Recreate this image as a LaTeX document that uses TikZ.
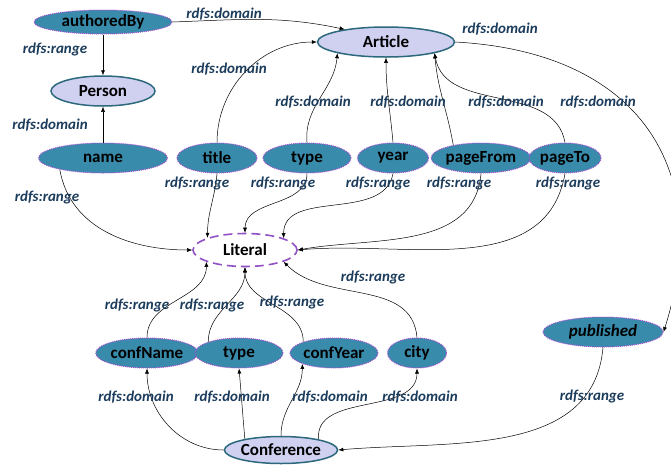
\documentclass[tikz,border=0pt]{standalone}
\usepackage{fontspec}
\setmainfont{Carlito}
\usepackage{xcolor}
\usetikzlibrary{shapes.geometric,arrows.meta}

\definecolor{propfill}{RGB}{56,139,170}
\definecolor{propline}{RGB}{165,80,210}
\definecolor{classfill}{RGB}{208,208,240}
\definecolor{classline}{RGB}{45,105,125}
\definecolor{litline}{RGB}{145,80,195}
\definecolor{lblcolor}{RGB}{28,60,92}

\begin{document}
\begin{tikzpicture}[x=1pt,y=-1pt,
  prop/.style={ellipse,draw=propline,densely dotted,line width=1pt,fill=propfill,
    inner sep=0pt,minimum height=30pt,font=\fontsize{17}{17}\selectfont\bfseries},
  cls/.style={ellipse,draw=classline,line width=1.5pt,fill=classfill,
    inner sep=0pt,minimum height=30pt,font=\fontsize{17}{17}\selectfont\bfseries},
  lit/.style={ellipse,draw=litline,line width=1.6pt,dash pattern=on 9pt off 5pt,fill=white,
    inner sep=0pt,font=\fontsize{17}{17}\selectfont\bfseries},
  lbl/.style={text=lblcolor,inner sep=0pt,font=\fontsize{15}{15}\selectfont\bfseries\itshape},
  rel/.style={-{Latex[length=5pt,width=4pt]},line width=0.5pt}]
  \useasboundingbox (0,0) rectangle (671,464);

  % Classes
  \node[cls,minimum width=104pt] (person) at (103,91) {Person};
  \node[cls,minimum width=137pt] (article) at (386,42) {Article};
  \node[cls,minimum width=105pt,minimum height=27pt] (conference) at (281,450) {Conference};
  \node[lit,minimum width=104pt,minimum height=33pt] (literal) at (245,250) {Literal};

  % Properties
  \node[prop,minimum width=138pt,minimum height=24pt] (authoredBy) at (103,22) {authoredBy};
  \node[prop,minimum width=129pt] (name) at (103,158) {name};
  \node[prop,minimum width=80pt] (title) at (217,158) {title};
  \node[prop,minimum width=88pt] (type) at (307,158) {type};
  \node[prop,minimum width=71pt] (year) at (393,158) {year};
  \node[prop,minimum width=88pt] (pageFrom) at (481,158) {pageFrom};
  \node[prop,minimum width=72pt] (pageTo) at (565,158) {pageTo};
  \node[prop,minimum width=88pt] (confName) at (147,353) {confName};
  \node[prop,minimum width=88pt] (confType) at (239,353) {type};
  \node[prop,minimum width=88pt] (confYear) at (334,353) {confYear};
  \node[prop,minimum width=59pt] (city) at (417,353) {city};
  \node[prop,minimum width=120pt] (published) at (603,332) {\itshape published};

  % Domain edges
  \draw[rel] (authoredBy.east) to[out=2,in=168] (article.163);
  \draw[rel] (name) -- (person);
  \draw[rel] (title.north) to[out=90,in=180] (article.west);
  \draw[rel] (type.north) to[out=95,in=-95] (article.193);
  \draw[rel] (year.north) to[out=95,in=-90] (article.south);
  \draw[rel] (pageFrom.155) to[out=100,in=-85] (article.-13);
  \draw[rel] (pageTo.north) to[out=100,in=-80] (article.-13);
  \draw[rel] (article.east) .. controls (640,52) and (715,170) .. (published.east);
  \draw[rel] (conference.west) to[out=180,in=-90] (confName.south);
  \draw[rel] (conference.163) to[out=95,in=-85] (confType.south);
  \draw[rel] (conference.north) to[out=90,in=-90] (confYear.199);
  \draw[rel] (conference.16) to[out=95,in=-90] (city.south);

  % Range edges
  \draw[rel] (authoredBy) -- (person);
  \draw[rel] (name.195) to[out=-80,in=180] (literal.west);
  \draw[rel] (title.south) to[out=-95,in=90] (literal.162);
  \draw[rel] (type.south) to[out=-90,in=90] (literal.north);
  \draw[rel] (year.south) to[out=-100,in=90] (literal.17);
  \draw[rel] (pageFrom.south) to[out=-95,in=10] (literal.east);
  \draw[rel] (pageTo.south) to[out=-100,in=5] (literal.east);
  \draw[rel] (confName.north) to[out=90,in=-90] (literal.197);
  \draw[rel] (confType.160) to[out=90,in=-90] (literal.south);
  \draw[rel] (confYear.160) to[out=90,in=-90] (literal.south);
  \draw[rel] (city.north) to[out=95,in=-45] (literal.-17);
  \draw[rel] (published.south) to[out=-95,in=5] (conference.east);

  % Labels
  \node[lbl] (lAuthDom) at (224,14) {rdfs:domain};
  \node[lbl] (lAuthRng) at (55,49) {rdfs:range};
  \node[lbl] (lNameDom) at (50,125) {rdfs:domain};
  \node[lbl] (lNameRng) at (47,197) {rdfs:range};
  \node[lbl] (lTitleDom) at (229,69) {rdfs:domain};
  \node[lbl] (lTypeDom) at (313,102) {rdfs:domain};
  \node[lbl] (lYearDom) at (408,102) {rdfs:domain};
  \node[lbl] (lFromDom) at (506,102) {rdfs:domain};
  \node[lbl] (lToDom) at (598,102) {rdfs:domain};
  \node[lbl] (lPubDom) at (500,29) {rdfs:domain};
  \node[lbl] (lTitleRng) at (197,183) {rdfs:range};
  \node[lbl] (lTypeRng) at (283,183) {rdfs:range};
  \node[lbl] (lYearRng) at (378,183) {rdfs:range};
  \node[lbl] (lFromRng) at (459,183) {rdfs:range};
  \node[lbl] (lToRng) at (568,183) {rdfs:range};
  \node[lbl] (lCNameRng) at (137,305) {rdfs:range};
  \node[lbl] (lCTypeRng) at (212,305) {rdfs:range};
  \node[lbl] (lCYearRng) at (292,302) {rdfs:range};
  \node[lbl] (lCityRng) at (373,277) {rdfs:range};
  \node[lbl] (lCNameDom) at (136,397) {rdfs:domain};
  \node[lbl] (lCTypeDom) at (232,397) {rdfs:domain};
  \node[lbl] (lCYearDom) at (330,397) {rdfs:domain};
  \node[lbl] (lCityDom) at (420,397) {rdfs:domain};
  \node[lbl] (lPubRng) at (592,396) {rdfs:range};
\end{tikzpicture}
\end{document}
